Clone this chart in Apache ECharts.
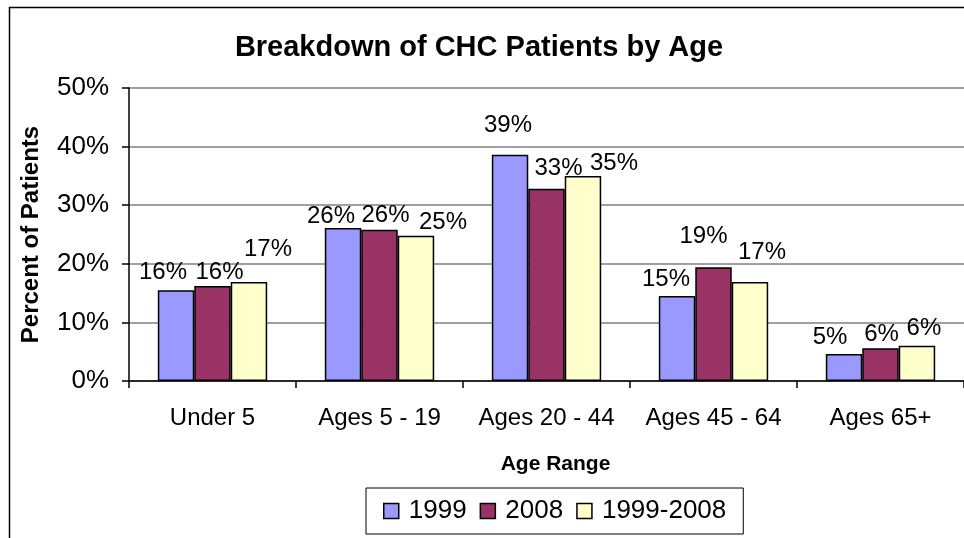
<!DOCTYPE html>
<html lang="en">
<head>
<meta charset="UTF-8">
<title>Breakdown of CHC Patients by Age</title>
<script src="https://cdn.jsdelivr.net/npm/echarts@6/dist/echarts.min.js"></script>
<style>
  html, body { margin: 0; padding: 0; background: #fff; }
  #main { width: 964px; height: 538px; }
</style>
</head>
<body>
<div id="main"></div>
<script>
// chart data
var categories = ['Under 5', 'Ages 5 - 19', 'Ages 20 - 44', 'Ages 45 - 64', 'Ages 65+'];
var seriesNames = ['1999', '2008', '1999-2008'];
var values1999 = [15.5, 26.1, 38.6, 14.5, 4.6];
var values2008 = [16.2, 25.8, 32.8, 19.4, 5.6];
var values9908 = [16.9, 24.8, 35.0, 16.9, 6.0];
var yTicks = [0, 10, 20, 30, 40, 50];

// label nudges (Excel spread the labels around), [dx, gap above bar]
var nudges = [
  [[-13, 10], [-12, 4], [-2, 21], [-11, 9], [-14, 9]],
  [[7, 6], [6, 6], [12, 12], [-10, 23], [1, 6]],
  [[19, 25], [27, 5], [31, 5], [12, 22], [7, 9]]
];
var colors = ['#9999FF', '#993366', '#FFFFCC'];
var font = 'Arial, "Liberation Sans", sans-serif';

var myChart = echarts.init(document.getElementById('main'));

function makeSeries(k, vals) {
  return {
    name: seriesNames[k],
    type: 'bar',
    barGap: '0%',
    barCategoryGap: '34.5%',
    itemStyle: { color: colors[k], borderColor: '#000', borderWidth: 1.5 },
    label: {
      show: true,
      position: 'top',
      distance: 0,
      color: '#000',
      fontFamily: font,
      fontSize: 24,
      formatter: function (p) { return Math.round(p.value) + '%'; }
    },
    data: vals.map(function (v, i) {
      return { value: v, label: { offset: [nudges[k][i][0], 4 - nudges[k][i][1]] } };
    })
  };
}

var option = {
  animation: false,
  backgroundColor: '#fff',
  graphic: [{
    type: 'rect',
    silent: true,
    z: -1,
    shape: { x: 9.5, y: 7.5, width: 1000, height: 600 },
    style: { fill: 'none', stroke: '#000', lineWidth: 1.5 }
  }],
  title: {
    text: 'Breakdown of CHC Patients by Age',
    left: 479,
    textAlign: 'center',
    top: 33,
    padding: 0,
    textStyle: { fontFamily: font, fontSize: 29, fontWeight: 'bold', color: '#000' }
  },
  legend: {
    data: seriesNames,
    left: 366,
    top: 488,
    orient: 'horizontal',
    padding: [10, 17],
    itemGap: 13,
    itemWidth: 15,
    itemHeight: 15,
    icon: 'rect',
    borderColor: '#000',
    borderWidth: 1,
    itemStyle: { borderColor: '#000', borderWidth: 1.5 },
    textStyle: { fontFamily: font, fontSize: 26, color: '#000', padding: [0, 0, 0, 5] }
  },
  grid: { left: 129, right: -6, top: 88, bottom: 157 },
  xAxis: {
    type: 'category',
    data: categories,
    name: 'Age Range',
    nameLocation: 'middle',
    nameGap: 73,
    nameTextStyle: { fontFamily: font, fontSize: 21, fontWeight: 'bold', color: '#000', padding: [0, 0, 0, 18] },
    axisLine: { lineStyle: { color: '#000', width: 1.5 } },
    axisTick: { show: true, length: 7, lineStyle: { color: '#000', width: 1.5 } },
    axisLabel: { interval: 0, margin: 25, fontFamily: font, fontSize: 24, color: '#000' },
    z: 5
  },
  yAxis: {
    type: 'value',
    min: yTicks[0],
    max: yTicks[yTicks.length - 1],
    interval: 10,
    name: 'Percent of Patients',
    nameLocation: 'middle',
    nameGap: 86,
    nameTextStyle: { fontFamily: font, fontSize: 24, fontWeight: 'bold', color: '#000' },
    axisLine: { show: true, lineStyle: { color: '#000', width: 1.5 } },
    axisTick: { show: true, length: 7, lineStyle: { color: '#000', width: 1.5 } },
    axisLabel: { margin: 20, fontFamily: font, fontSize: 26, color: '#000', formatter: '{value}%' },
    splitLine: { show: true, lineStyle: { color: '#808080', width: 1.5 } }
  },
  series: [
    makeSeries(0, values1999),
    makeSeries(1, values2008),
    makeSeries(2, values9908)
  ]
};

myChart.setOption(option);
</script>
</body>
</html>
